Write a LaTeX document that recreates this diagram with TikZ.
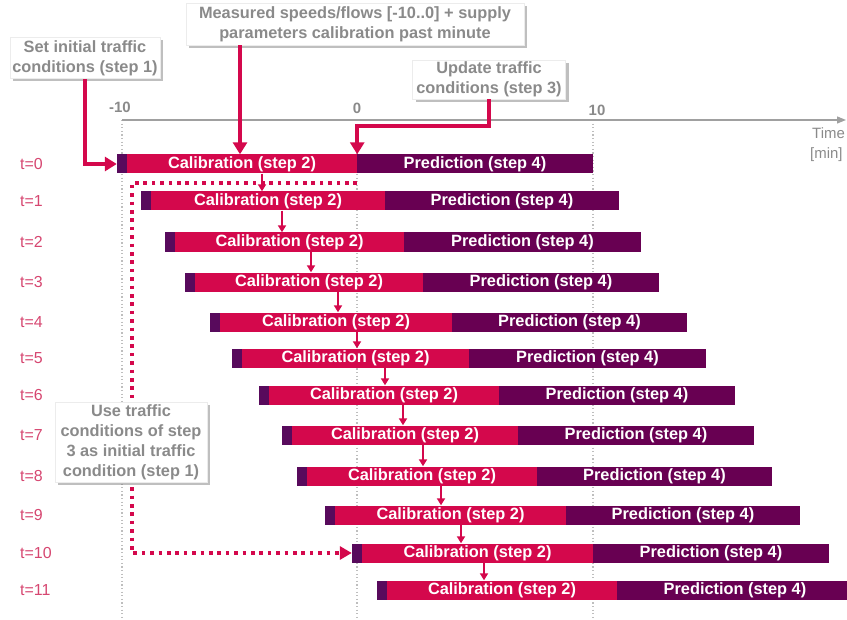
\documentclass[tikz,border=0pt]{standalone}
\usepackage{fontspec}
\setmainfont{Liberation Sans}
\usetikzlibrary{arrows.meta,shadows}
\definecolor{crim}{RGB}{212,8,76}
\definecolor{purp}{RGB}{104,0,82}
\definecolor{dpurp}{RGB}{88,10,92}
\definecolor{tcol}{RGB}{214,70,112}
\definecolor{gtext}{RGB}{138,138,138}
\definecolor{axcol}{RGB}{160,160,160}
\definecolor{gridcol}{RGB}{190,190,190}
\begin{document}
\begin{tikzpicture}[x=1bp,y=-1bp,
  barbase/.style={draw=none, minimum height=19bp, inner sep=0pt, text=white,
    font=\bfseries\fontsize{16.4}{18}\selectfont},
  calib/.style={barbase, fill=crim},
  pred/.style={barbase, fill=purp},
  startseg/.style={draw=none, fill=dpurp, minimum width=10bp, minimum height=19bp, inner sep=0pt},
  tlab/.style={text=tcol, font=\fontsize{16}{18}\selectfont, anchor=west, inner sep=0pt},
  axlab/.style={text=gtext, font=\bfseries\fontsize{15}{17}\selectfont, inner sep=0pt},
  timelab/.style={text=gtext, font=\fontsize{15}{17}\selectfont, anchor=west, inner sep=0pt},
  callout/.style={fill=white, draw=gray!15, line width=0.6bp, align=center, text=gtext,
    inner sep=0pt, font=\bfseries\fontsize{16.4}{20}\selectfont,
    drop shadow={shadow xshift=3bp, shadow yshift=-3bp, fill=gray, opacity=0.5}},
  bigarr/.style={draw=crim, line width=3.5bp, -{Triangle[length=12bp,width=14bp]}},
  sarr/.style={draw=crim, line width=1.8bp, -{Triangle[length=7bp,width=8bp]}},
  dotpath/.style={draw=crim, line width=3.6bp, dash pattern=on 3.6bp off 4.8bp,
    -{Triangle[length=12bp,width=13bp]}},
  vgrid/.style={draw=gridcol, line width=1.1bp, dash pattern=on 1.2bp off 2.4bp},
  axisline/.style={draw=axcol, line width=1.2bp, -{Triangle[length=9bp,width=7bp]}}
]
\useasboundingbox (0,0) rectangle (847,620);

% vertical grid lines and time axis
\draw[vgrid] (122,120) -- (122,620);
\draw[vgrid] (357,120) -- (357,620);
\draw[vgrid] (593,120) -- (593,620);
\draw[axisline] (122,120) -- (846,120);
\node[axlab] (am10) at (120,107) {-10};
\node[axlab] (a0) at (357,108) {0};
\node[axlab] (a10) at (597,110) {10};
\node[timelab] (tm1) at (812,133) {Time};
\node[timelab] (tm2) at (810,155) {[min]};

% bars
\foreach \i/\xs/\xb/\xe/\yy in {0/117/357/593/164, 1/141/385/619/201, 2/165/404/641/242,
   3/185/423/659/282, 4/210/452/687/322, 5/232/469/706/358, 6/259/499/735/395,
   7/282/518/754/435, 8/297/537/772/476, 9/325/566/800/515, 10/352/593/829/553,
   11/377/617/853/590}{
  \pgfmathsetmacro\cw{\xb-\xs-10}
  \pgfmathsetmacro\cx{(\xs+10+\xb)/2}
  \pgfmathsetmacro\pw{\xe-\xb}
  \pgfmathsetmacro\px{(\xb+\xe)/2}
  \node[startseg] (s\i) at (\xs+5,\yy) {};
  \node[calib, minimum width=\cw bp] (c\i) at (\cx,\yy) {Calibration (step 2)};
  \node[pred, minimum width=\pw bp] (p\i) at (\px,\yy) {Prediction (step 4)};
  \node[tlab] (l\i) at (20,\yy) {t=\i};
}

% dotted feedback path
\coordinate (d0) at (357,183);
\coordinate (d1) at (132,183);
\coordinate (d2) at (132,553);
\draw[dotpath] (d0) -- (d1) -- (d2) -- (s10.west);

% small arrows between consecutive calibrations
\foreach \i/\xa in {0/262, 1/282, 2/311, 3/338, 4/357, 5/385, 6/403, 7/423, 8/441, 9/461, 10/484}{
  \pgfmathtruncatemacro\j{\i+1}
  \coordinate (ar\i) at (\xa,0);
  \draw[sarr] (c\i.south -| ar\i) -- (c\j.north -| ar\i);
}

% callouts
\node[callout, minimum width=150bp, minimum height=41bp] (b1) at (85,58)
  {Set initial traffic\\conditions (step 1)};
\node[callout, minimum width=338bp, minimum height=42bp] (b2) at (355,24)
  {Measured speeds/flows [-10..0] + supply\\parameters calibration past minute};
\node[callout, minimum width=153bp, minimum height=39bp] (b3) at (489,79.5)
  {Update traffic\\conditions (step 3)};
\node[callout, minimum width=152bp, minimum height=80bp] (b4) at (131,442)
  {Use traffic\\conditions of step\\3 as initial traffic\\condition (step 1)};

% big arrows from callouts
\draw[bigarr] (b1.south) |- (s0.west);
\coordinate (k2) at (240,0);
\draw[bigarr] (b2.south -| k2) -- (c0.north -| k2);
\coordinate (j3) at (0,126);
\draw[bigarr] (b3.south) -- (b3.south |- j3) -| (c0.north east);
\end{tikzpicture}
\end{document}
